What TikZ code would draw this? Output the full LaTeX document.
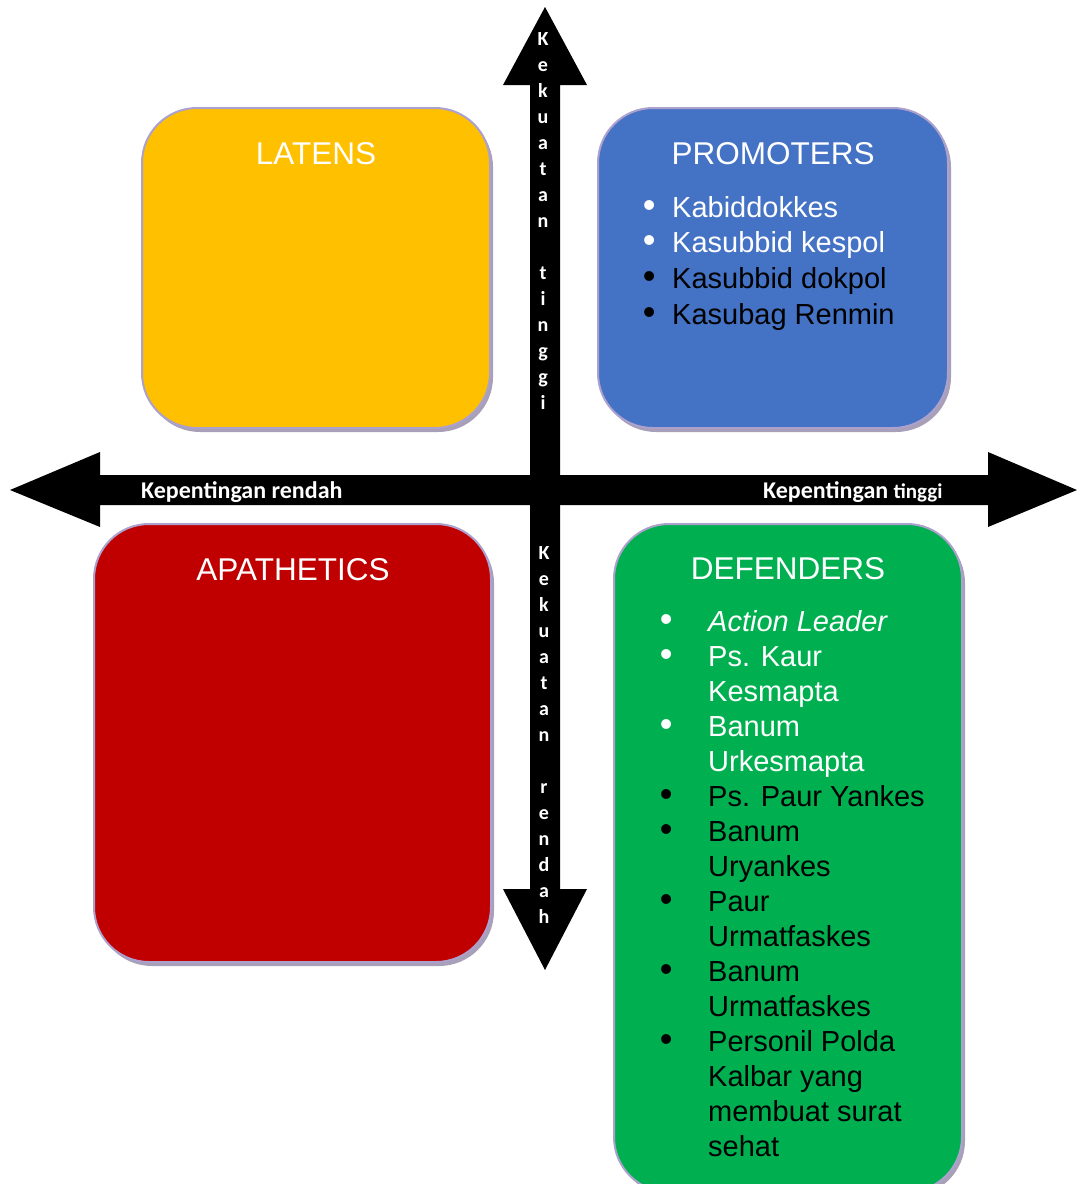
\documentclass[tikz,border=0pt]{standalone}
\usepackage{fontspec}
\setmainfont{Liberation Sans}
\newfontfamily\calib{Carlito}
\usepackage{xcolor}
\usetikzlibrary{shadows}

\definecolor{latcol}{RGB}{255,192,0}
\definecolor{procol}{RGB}{68,114,196}
\definecolor{apacol}{RGB}{192,0,0}
\definecolor{defcol}{RGB}{0,176,80}
\definecolor{rimcol}{RGB}{172,160,204}
\definecolor{shdcol}{RGB}{168,160,184}

\newcommand\bul{\makebox[0pt]{\scalebox{1.25}{•}}}
\newcommand\litem[2]{\color{#1}\bul & \color{#1}#2\\}
\newcommand\lmore[2]{ & \color{#1}#2\\}

\tikzset{
  quad/.style={rectangle, rounded corners=55pt, draw=rimcol, line width=2pt,
    drop shadow={shadow xshift=3pt, shadow yshift=-4pt, fill=shdcol, opacity=1}},
  ttl/.style={text=white, font=\fontsize{31.5}{36}\selectfont},
  axlbl/.style={text=white, inner sep=0pt, font=\calib\bfseries\fontsize{24}{26}\selectfont},
  vlbl/.style={text=white, inner sep=0pt, font=\calib\bfseries\fontsize{20}{26}\selectfont},
  lst/.style={anchor=base west, inner sep=0pt}
}

\begin{document}
\begin{tikzpicture}[x=1pt, y=-1pt]
\useasboundingbox (0,0) rectangle (1077,1184);

% axes
\fill[black] (10,490) -- (100,452) -- (100,475) -- (988,475) -- (988,452) -- (1077,490)
  -- (988,527) -- (988,505) -- (100,505) -- (100,527) -- cycle;
\fill[black] (545,7) -- (587,85) -- (560,85) -- (560,889) -- (587,889) -- (545,970)
  -- (503,889) -- (530,889) -- (530,85) -- (503,85) -- cycle;

\node[axlbl, anchor=base west] (kr) at (141,498) {Kepentingan rendah};
\node[axlbl, anchor=base west] (kt) at (763,498) {Kepentingan {\fontsize{21}{24}\selectfont tinggi}};
\node[vlbl, anchor=base] (vt) at (543,45) {\begin{tabular}[t]{@{}c@{}}
  K\\e\\k\\u\\a\\t\\a\\n\\\mbox{}\\t\\i\\n\\g\\g\\i\end{tabular}};
\node[vlbl, anchor=base] (vr) at (544,559) {\begin{tabular}[t]{@{}c@{}}
  K\\e\\k\\u\\a\\t\\a\\n\\\mbox{}\\r\\e\\n\\d\\a\\h\end{tabular}};

% quadrants
\node[quad, fill=latcol, minimum width=348pt, minimum height=320pt] (lat) at (316,268) {};
\node[quad, fill=procol, minimum width=350pt, minimum height=320pt] (pro) at (773,268) {};
\node[quad, fill=apacol, minimum width=397pt, minimum height=438pt] (apa) at (292.5,743) {};
\node[quad, fill=defcol, minimum width=348pt, minimum height=668pt] (def) at (788,858) {};

\node[ttl] (latt) at (316,154) {LATENS};
\node[ttl] (prot) at (773,154) {PROMOTERS};
\node[ttl] (apat) at (293,570) {APATHETICS};
\node[ttl] (deft) at (788,569) {DEFENDERS};

\node[lst, font=\fontsize{29}{35.7}\selectfont] (prol) at (649,217) {%
\begin{tabular}[t]{@{}l@{\hspace{23pt}}l@{}}
\litem{white}{Kabiddokkes}
\litem{white}{Kasubbid kespol}
\litem{black}{Kasubbid dokpol}
\litem{black}{Kasubag Renmin}
\end{tabular}};

\node[lst, font=\fontsize{29}{35}\selectfont] (defl) at (666,631) {%
\begin{tabular}[t]{@{}l@{\hspace{42pt}}l@{}}
\litem{white}{\textit{Action Leader}}
\litem{white}{Ps. Kaur}
\lmore{white}{Kesmapta}
\litem{white}{Banum}
\lmore{white}{Urkesmapta}
\litem{black}{Ps. Paur Yankes}
\litem{black}{Banum}
\lmore{black}{Uryankes}
\litem{black}{Paur}
\lmore{black}{Urmatfaskes}
\litem{black}{Banum}
\lmore{black}{Urmatfaskes}
\litem{black}{Personil Polda}
\lmore{black}{Kalbar yang}
\lmore{black}{membuat surat}
\lmore{black}{sehat}
\end{tabular}};
\end{tikzpicture}
\end{document}
